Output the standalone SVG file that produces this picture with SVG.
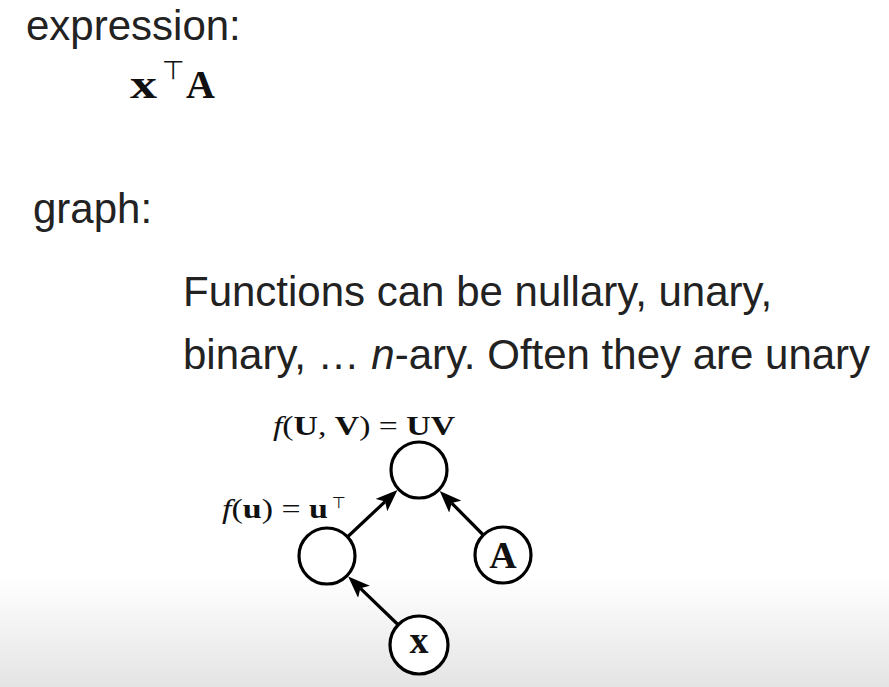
<svg xmlns="http://www.w3.org/2000/svg" width="889" height="687" viewBox="0 0 889 687">
  <defs>
    <linearGradient id="bg" x1="0" y1="0" x2="0" y2="1">
      <stop offset="0" stop-color="#ffffff"/>
      <stop offset="0.84" stop-color="#ffffff"/>
      <stop offset="1" stop-color="#e4e4e4"/>
    </linearGradient>
    <marker id="arrow" viewBox="0 0 22 17" markerUnits="userSpaceOnUse" markerWidth="22" markerHeight="17" refX="5" refY="8.5" orient="auto">
      <path d="M0,0 L22,8.5 L0,17 L5,8.5 Z" fill="#000"/>
    </marker>
    <style>
      .txt { font-family: "Liberation Sans", Arial, sans-serif; font-size: 42px; fill: #222; }
      .math { font-family: "Liberation Serif", "Times New Roman", serif; fill: #111; }
      .b { font-weight: bold; }
      .it { font-style: italic; }
      .node { fill: #fff; stroke: #000; stroke-width: 3.2; }
      .edge { stroke: #000; stroke-width: 3.2; fill: none; marker-end: url(#arrow); }
      .sym { font-family: "DejaVu Sans", sans-serif; fill: #111; }
    </style>
  </defs>
  <rect x="0" y="0" width="889" height="687" fill="url(#bg)"/>

  <g id="header-expression">
    <text class="txt" x="26" y="40">expression:</text>
    <text class="math b" x="130" y="98" font-size="42" textLength="27" lengthAdjust="spacingAndGlyphs">x</text>
    <text class="sym" x="162" y="79" font-size="26">⊤</text>
    <text class="math b" x="186" y="98" font-size="40">A</text>
  </g>

  <g id="header-graph">
    <text class="txt" x="33" y="223">graph:</text>
  </g>

  <g id="note">
    <text class="txt" x="183" y="306">Functions can be nullary, unary,</text>
    <text class="txt" x="183" y="369">binary, … <tspan font-style="italic">n</tspan>-ary. Often they are unary</text>
  </g>

  <g id="connectors">
    <line class="edge" x1="347.4" y1="537" x2="385.1" y2="501.6"/>
    <line class="edge" x1="483.3" y1="535" x2="451.7" y2="503.1"/>
    <line class="edge" x1="398.9" y1="625.5" x2="360.4" y2="588.3"/>
  </g>

  <g id="node-mult">
    <circle class="node" cx="419" cy="470" r="28"/>
    <text class="math" x="273" y="435" font-size="28" textLength="182" lengthAdjust="spacingAndGlyphs"><tspan class="it">f</tspan>(<tspan class="b">U</tspan>, <tspan class="b">V</tspan>) = <tspan class="b">UV</tspan></text>
  </g>

  <g id="node-transpose">
    <circle class="node" cx="327" cy="556" r="28"/>
    <text class="math" x="222" y="518" font-size="27" textLength="106" lengthAdjust="spacingAndGlyphs"><tspan class="it">f</tspan>(<tspan class="b">u</tspan>) = <tspan class="b">u</tspan></text>
    <text class="sym" x="332" y="508" font-size="16">⊤</text>
  </g>

  <g id="node-A">
    <circle class="node" cx="503" cy="555" r="28"/>
    <text class="math b" x="503" y="568" font-size="38" text-anchor="middle">A</text>
  </g>

  <g id="node-x">
    <circle class="node" cx="419" cy="645" r="29"/>
    <text class="math b" x="419" y="653" font-size="38" text-anchor="middle">x</text>
  </g>
</svg>
